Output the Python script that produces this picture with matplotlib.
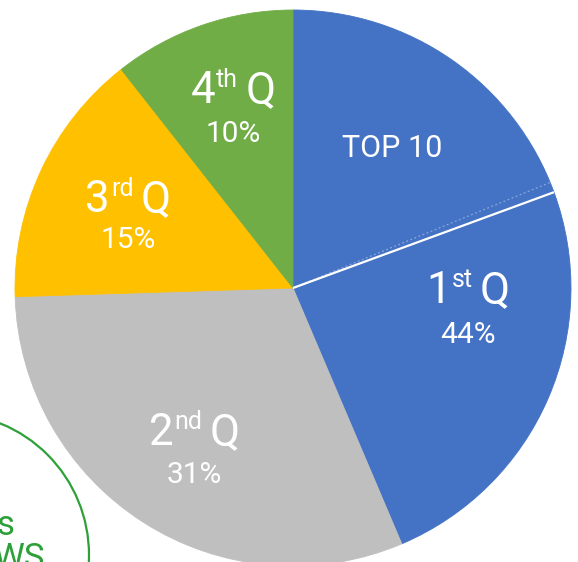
import matplotlib
matplotlib.use('Agg')
import matplotlib.pyplot as plt
import numpy as np
from matplotlib.patches import Circle

plt.rcParams['font.family'] = ['Roboto', 'DejaVu Sans']

# ---- data ----
quarter_names = ['1st', '2nd', '3rd', '4th']
quarter_shares = [43.6, 30.9, 14.9, 10.6]          # % of whole pie
quarter_pct_labels = ['44%', '31%', '15%', '10%']
top10_share = 19.4                                  # part of 1st Q held by TOP 10
top10_alt_share = 18.8                              # faint dotted guide
top10_label = 'TOP 10'

# ---- style ----
colors = ['#4472C4', '#BFBFBF', '#FFC000', '#70AD47']
W, H = 578, 562
CX, CY, R = 293.0, 288.0, 278.0

def px(x, y):
    return ((x - CX) / R, (CY - y) / R)

fig = plt.figure(figsize=(W / 100, H / 100), dpi=100)
ax = fig.add_axes([0, 0, 1, 1])

values = [top10_share, quarter_shares[0] - top10_share] + quarter_shares[1:]
wcolors = [colors[0], colors[0]] + colors[1:]
ax.pie(values, colors=wcolors, startangle=90, counterclock=False, radius=1,
       wedgeprops=dict(linewidth=0.6))
for w, c in zip(ax.patches, wcolors):
    w.set_edgecolor(c)

ang = np.deg2rad(90 - 360 * top10_share / 100)
ax.plot([0, np.cos(ang)], [0, np.sin(ang)], color='white', lw=1.6, solid_capstyle='butt', zorder=5)
ang2 = np.deg2rad(90 - 360 * top10_alt_share / 100)
ax.plot([0, np.cos(ang2)], [0, np.sin(ang2)], color='#9DB5E2', lw=0.9, ls=(0, (1.5, 2)), alpha=0.8, zorder=4)

x0, y1 = px(0, 0)
x1, y0 = px(W, H)
ax.set_xlim(x0, x1)
ax.set_ylim(y0, y1)
ax.set_aspect('equal')
ax.axis('off')

renderer = fig.canvas.get_renderer()

def width_px(t):
    return t.get_window_extent(renderer=renderer).width

# labels: (center x px, main baseline px, pct baseline px)
layout = [(468, 303, 343), (194, 445, 483), (128, 212, 248), (233, 103, 142)]
MAIN, SUP, PCT = 31.5, 18, 21.5
for name, pct, (lx, yb, yp) in zip(quarter_names, quarter_pct_labels, layout):
    num, suf = name[0], name[1:]
    t1 = ax.text(0, 0, num, color='white', fontsize=MAIN, ha='left', va='baseline', zorder=6)
    t2 = ax.text(0, 0, suf, color='white', fontsize=SUP, ha='left', va='baseline', zorder=6)
    t3 = ax.text(0, 0, 'Q', color='white', fontsize=MAIN, ha='left', va='baseline', zorder=6)
    w1, w2, w3 = width_px(t1), width_px(t2), width_px(t3)
    g1, g2 = 1, 7
    total = w1 + g1 + w2 + g2 + w3
    sx = lx - total / 2
    t1.set_position(px(sx, yb))
    t2.set_position(px(sx + w1 + g1, yb - 16))
    t3.set_position(px(sx + w1 + g1 + w2 + g2, yb))
    ax.text(*px(lx, yp), pct, color='white', fontsize=PCT, ha='center', va='baseline', zorder=6)

ax.text(*px(392, 157), top10_label, color='white', fontsize=22, ha='center', va='baseline', zorder=6)

# partial green circle annotation at bottom-left
ax.add_patch(Circle(px(-53, 555), 142 / R, fill=False, edgecolor='#2EA03A', lw=1.6, zorder=3))
ax.text(*px(14, 535), 's', color='#2EA03A', fontsize=25, ha='right', va='baseline')
ax.text(*px(45, 568), 'WS', color='#2EA03A', fontsize=25, ha='right', va='baseline')

fig.savefig('out.png', dpi=100)
